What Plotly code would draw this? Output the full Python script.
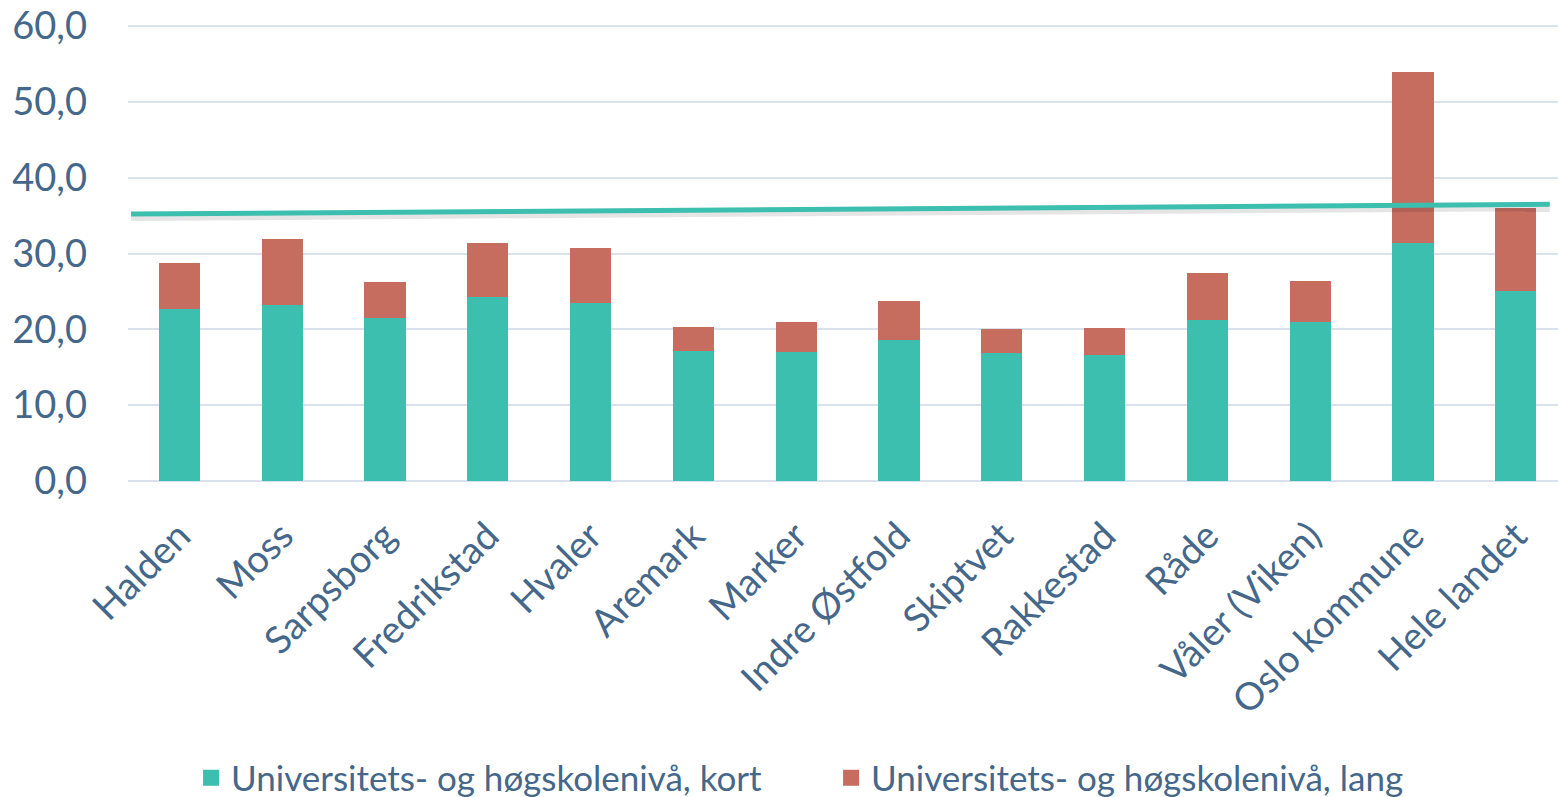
import plotly.graph_objects as go

categories = ["Halden", "Moss", "Sarpsborg", "Fredrikstad", "Hvaler", "Aremark", "Marker",
              "Indre Østfold", "Skiptvet", "Rakkestad", "Råde", "Våler (Viken)",
              "Oslo kommune", "Hele landet"]
kort = [22.7, 23.2, 21.5, 24.3, 23.5, 17.2, 17.0, 18.6, 16.9, 16.6, 21.2, 21.0, 31.4, 25.1]
total = [28.8, 31.9, 26.3, 31.4, 30.7, 20.3, 21.0, 23.7, 20.1, 20.2, 27.4, 26.4, 54.0, 36.0]
lang = [round(t - k, 1) for t, k in zip(total, kort)]

trend_x = [-0.47, 13.33]
trend_y = [35.2, 36.5]

y_ticks = [0, 10, 20, 30, 40, 50, 60]
y_ticktext = ["0,0", "10,0", "20,0", "30,0", "40,0", "50,0", "60,0"]

series_names = ["Universitets- og høgskolenivå, kort", "Universitets- og høgskolenivå, lang"]

TEAL = "#3CBFAE"
RED = "#C66D60"
TEXT = "#44678A"
GRID = "#D9E1EC"
FONT = "Lato, Open Sans, sans-serif"

idx = list(range(len(categories)))

fig = go.Figure()
fig.add_trace(go.Bar(x=idx, y=kort, name=series_names[0], showlegend=False,
                     marker=dict(color=TEAL, line=dict(width=0)), width=0.4))
fig.add_trace(go.Bar(x=idx, y=lang, name=series_names[1], showlegend=False,
                     marker=dict(color=RED, line=dict(width=0)), width=0.4))
# soft shadow of trend line
fig.add_trace(go.Scatter(x=trend_x, y=[v - 0.45 for v in trend_y], mode="lines",
                         line=dict(color="rgba(0,0,0,0.10)", width=7),
                         showlegend=False, hoverinfo="skip"))
fig.add_trace(go.Scatter(x=trend_x, y=trend_y, mode="lines",
                         line=dict(color=TEAL, width=5),
                         showlegend=False, hoverinfo="skip"))
# legend entries with larger square symbols
for nm, col in zip(series_names, [TEAL, RED]):
    fig.add_trace(go.Scatter(x=[None], y=[None], mode="markers", name=nm,
                             marker=dict(symbol="square", size=20, color=col)))

fig.update_layout(
    width=1558, height=797,
    barmode="stack",
    margin=dict(l=128, r=0, t=23, b=316),
    paper_bgcolor="white", plot_bgcolor="white",
    font=dict(family=FONT, color=TEXT, size=38),
    legend=dict(orientation="h", x=0.0441, xanchor="left",
                yref="container", y=0.0238, yanchor="middle",
                font=dict(size=35, color=TEXT), itemwidth=30, traceorder="normal",
                entrywidth=595, entrywidthmode="pixels"),
    xaxis=dict(range=[-0.5, 13.41], tickmode="array", tickvals=idx, ticktext=categories,
               tickangle=-45, showgrid=False, zeroline=False, showline=False,
               ticks="", automargin=False, ticklabelstandoff=24,
               tickfont=dict(size=38, color=TEXT)),
    yaxis=dict(range=[0, 60.4], tickmode="array", tickvals=y_ticks, ticktext=y_ticktext,
               showgrid=True, gridcolor=GRID, gridwidth=1.5, zeroline=True,
               zerolinecolor=GRID, zerolinewidth=2, showline=False, ticks="",
               automargin=False, ticklabelstandoff=40, ticklabeloverflow="allow",
               tickfont=dict(size=38, color=TEXT)),
)

fig.write_html("out.html", config={"displayModeBar": False},
               post_script="document.body.style.margin='0';")
